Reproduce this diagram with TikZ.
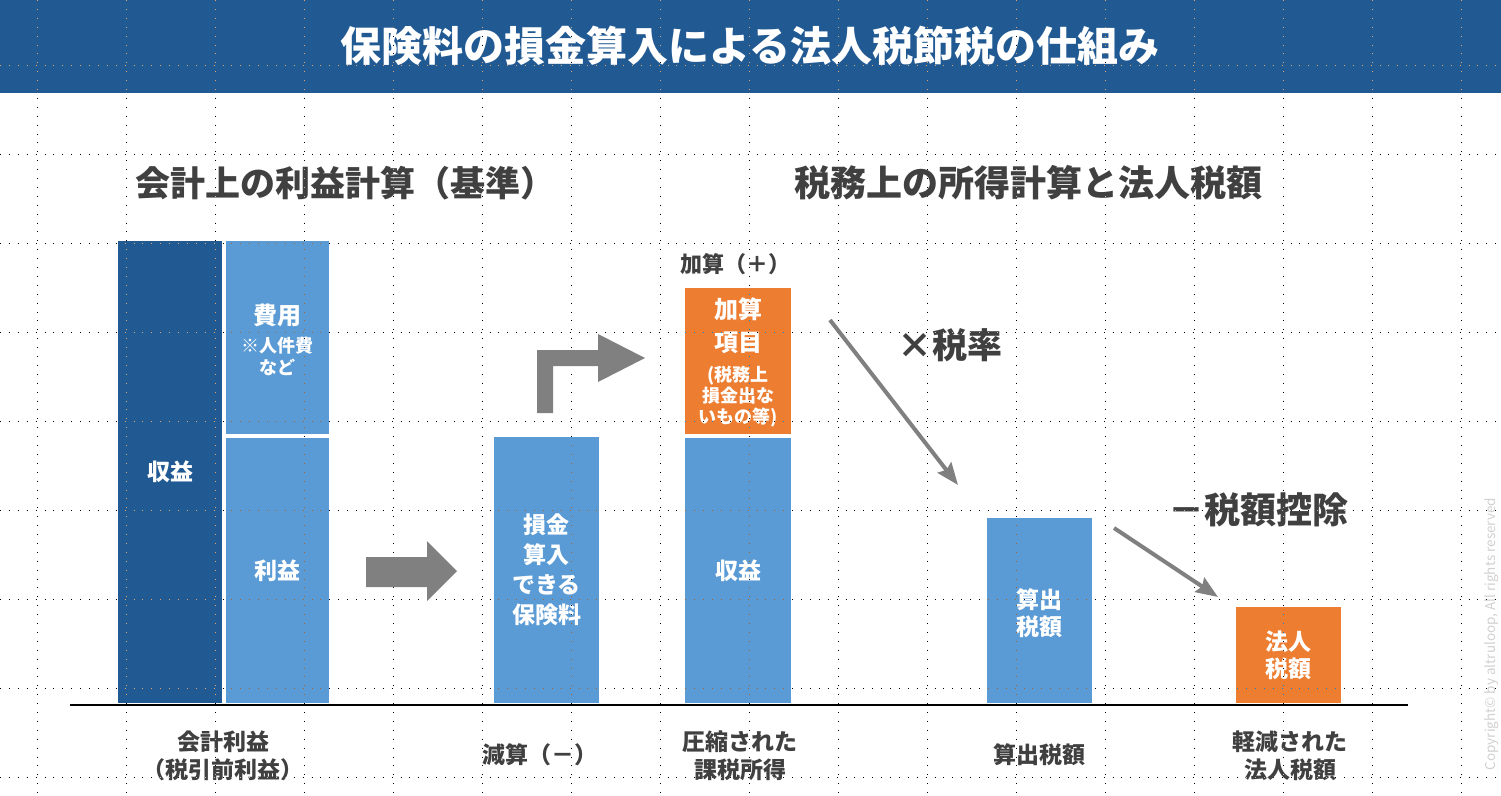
\documentclass[tikz,border=0pt]{standalone}
\usepackage{fontspec}
\setmainfont{Noto Sans CJK JP}
\usetikzlibrary{arrows.meta}
\definecolor{titleblue}{HTML}{215A93}
\definecolor{barblue}{HTML}{5B9BD5}
\definecolor{barorange}{HTML}{ED7D31}
\definecolor{textgray}{HTML}{404040}
\definecolor{arrowgray}{HTML}{808080}
\newcommand{\fsz}[2]{\fontsize{#1}{#2}\selectfont}
\begin{document}
\begin{tikzpicture}
[x=1pt,y=-1pt,
 bardecorate/.style={shape=rectangle,inner sep=0pt,draw=none},
 bartext/.style={text=white,font=\bfseries\fsz{23}{30},align=center},
 labeldecorate/.style={text=textgray,font=\bfseries\fsz{23}{28},align=center},
 arrowdecorate/.style={-{Stealth[length=22pt,width=17pt,inset=3pt]},line width=4pt,draw=arrowgray},
 blockdecorate/.style={fill=arrowgray,draw=none}]
\useasboundingbox (0,0) rectangle (1501,795);
\fill[white] (0,0) rectangle (1501,795);
%% title bar
\fill[titleblue] (0,0) rectangle (1501,93);
\node (title) at (750,46) [text=white,font=\bfseries\fsz{41}{48}] {保険料の損金算入による法人税節税の仕組み};
%% headings
\node (headbook) at (345,183) [labeldecorate,font=\bfseries\fsz{35}{40}] {会計上の利益計算（基準）};
\node (headtax) at (1028,183) [labeldecorate,font=\bfseries\fsz{36}{40}] {税務上の所得計算と法人税額};
%% bars
\foreach \barname/\x/\y/\w/\h/\colour in {revenue/170/472/104/462/titleblue,
  cost/277.5/337.5/103/193/barblue, profit/277.5/570.5/103/265/barblue,
  premium/546.5/570/105/266/barblue, addition/738/361/106/146/barorange,
  taxbase/738/570.5/106/265/barblue, calctax/1039.5/610.5/105/185/barblue,
  finaltax/1288.5/655/105/96/barorange} {
  \node (\barname) at (\x,\y) [bardecorate,fill=\colour,minimum width=\w pt,minimum height=\h pt] {};
}
%% texts in bars
\node at (revenue) [bartext] {収益};
\node at (277.5,340) [bartext,font=\bfseries\fsz{18}{22}] {\fsz{24}{22}費用\\[6pt]※人件費\\など};
\node at (profit) [bartext] {利益};
\node at (premium) [bartext] {損金\\算入\\できる\\保険料};
\node at (738,362) [bartext,font=\bfseries\fsz{18}{21}] {\fsz{24}{21}加算\\[10pt]\fsz{24}{21}項目\\[9pt](税務上\\損金出な\\いもの等)};
\node at (taxbase) [bartext] {収益};
\node at (1039.5,613) [bartext,font=\bfseries\fsz{23}{27}] {算出\\税額};
\node at (finaltax) [bartext,font=\bfseries\fsz{23}{27}] {法人\\税額};
%% labels
\node (addlabel) at (735,264) [labeldecorate,font=\bfseries\fsz{22}{26}] {加算（＋）};
\node (ratelabel) at (950,345) [labeldecorate,font=\bfseries\fsz{35}{40}] {×税率};
\node (creditlabel) at (1258,510) [labeldecorate,font=\bfseries\fsz{36}{40}] {－税額控除};
\foreach \labelname/\x/\y/\labeltext in {booklabel/223/756/{会計利益\\（税引前利益）},
  minuslabel/540/755/{減算（－）}, baselabel/740/756/{圧縮された\\課税所得},
  calclabel/1039/755/{算出税額}, finallabel/1290/756/{軽減された\\法人税額}} {
  \node (\labelname) at (\x,\y) [labeldecorate] {\labeltext};
}
%% ground line
\draw[line width=2pt] (70,705) -- (1408,705);
%% block arrows
\fill[blockdecorate] (366,557) -- (427,557) -- (427,541) -- (457,571) -- (427,601)
  -- (427,587) -- (366,587) -- cycle;
\fill[blockdecorate] (537,413) -- (537,350) -- (598,350) -- (598,334) -- (645,358)
  -- (598,382) -- (598,366) -- (553,366) -- (553,413) -- cycle;
%% thin arrows
\coordinate (ratestart) at (830,320);
\coordinate (rateend) at (958,485);
\coordinate (creditstart) at (1114,528);
\coordinate (creditend) at (1218,597);
\draw[arrowdecorate] (ratestart) -- (rateend);
\draw[arrowdecorate] (creditstart) -- (creditend);
%% copyright
\node (copyright) at (1492,634) [rotate=90,text=black!18,font=\fsz{13.5}{15}] {Copyright© by altruloop, All rights reserved};
%% guide grid
\begin{scope}[blend mode=difference]
\foreach \gx in {37,126,...,1461}
  \draw[white,line width=1pt,dash pattern=on 1pt off 7.9pt] (\gx,0) -- (\gx,795);
\foreach \gy in {65,154,...,777}
  \draw[white,line width=1pt,dash pattern=on 1pt off 7.9pt] (0,\gy) -- (1501,\gy);
\end{scope}
\end{tikzpicture}
\end{document}
